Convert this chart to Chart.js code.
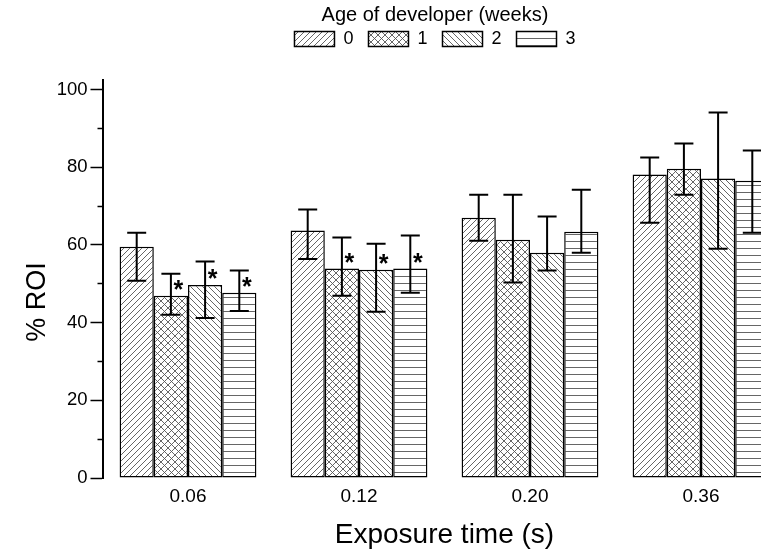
<!DOCTYPE html>
<html>
<head>
<meta charset="utf-8">
<script src="https://cdn.jsdelivr.net/npm/chart.js@4.4.0/dist/chart.umd.min.js"></script>
<style>
  html, body { margin: 0; padding: 0; background: #fff; }
  #wrap { width: 761px; height: 554px; overflow: hidden; }
</style>
</head>
<body>
<div id="wrap"><canvas id="chart" width="870" height="554"></canvas></div>
<script>
// exposure times (s)
const exposures = ['0.06', '0.12', '0.20', '0.36'];
const ages = ['0', '1', '2', '3'];

// mean % ROI per developer age
const week0 = [59.5, 63.7, 67.0, 78.1];
const week1 = [46.9, 53.9, 61.3, 79.6];
const week2 = [49.7, 53.6, 58.0, 77.1];
const week3 = [47.7, 53.9, 63.4, 76.5];

// error bar ends
const upper0 = [63.1, 69.1, 72.9, 82.5];
const lower0 = [50.8, 56.4, 61.1, 65.7];
const upper1 = [52.6, 61.9, 72.9, 86.1];
const lower1 = [42.0, 46.9, 50.3, 72.9];
const upper2 = [55.7, 60.3, 67.3, 94.1];
const lower2 = [41.2, 42.8, 53.4, 59.0];
const upper3 = [53.4, 62.4, 74.2, 84.3];
const lower3 = [43.0, 47.7, 58.0, 63.1];

// significant difference marks (*)
const star0 = [false, false, false, false];
const star1 = [true, true, false, false];
const star2 = [true, true, false, false];
const star3 = [true, true, false, false];

const yTicks = [0, 20, 40, 60, 80, 100];
const yMinorTicks = [10, 30, 50, 70, 90];
const yMax = 102.5;

const FONT = "'Liberation Sans', Arial, sans-serif";
Chart.defaults.font.family = FONT;
Chart.defaults.color = '#000';

function hatch(kind) {
  const s = kind === 'fwd' || kind === 'back' ? 6 : 7;
  const c = document.createElement('canvas');
  c.width = c.height = s;
  const g = c.getContext('2d');
  g.fillStyle = '#fff';
  g.fillRect(0, 0, s, s);
  g.strokeStyle = '#555';
  g.lineWidth = 0.9;
  g.beginPath();
  if (kind === 'fwd' || kind === 'cross') {
    g.moveTo(-1, s + 1); g.lineTo(s + 1, -1);
    g.moveTo(-1, 1); g.lineTo(1, -1);
    g.moveTo(s - 1, s + 1); g.lineTo(s + 1, s - 1);
  }
  if (kind === 'back' || kind === 'cross') {
    g.moveTo(-1, -1); g.lineTo(s + 1, s + 1);
    g.moveTo(s - 1, -1); g.lineTo(s + 1, 1);
    g.moveTo(-1, s - 1); g.lineTo(1, s + 1);
  }
  if (kind === 'horiz') {
    g.moveTo(0, 3.5); g.lineTo(s, 3.5);
  }
  g.stroke();
  return g.createPattern(c, 'repeat');
}

const series = [
  { data: week0, hi: upper0, lo: lower0, star: star0, fill: hatch('fwd') },
  { data: week1, hi: upper1, lo: lower1, star: star1, fill: hatch('cross') },
  { data: week2, hi: upper2, lo: lower2, star: star2, fill: hatch('back') },
  { data: week3, hi: upper3, lo: lower3, star: star3, fill: hatch('horiz') }
];

// error bars, stars and the y axis title (sits a bit below the axis middle)
const extras = {
  id: 'extras',
  afterDatasetsDraw(chart) {
    const { ctx } = chart;
    const y = chart.scales.y;
    ctx.save();
    ctx.strokeStyle = '#000';
    ctx.fillStyle = '#000';
    ctx.lineWidth = 2;
    series.forEach((s, i) => {
      const meta = chart.getDatasetMeta(i);
      meta.data.forEach((bar, j) => {
        const x = bar.x;
        const top = y.getPixelForValue(s.hi[j]);
        const bot = y.getPixelForValue(s.lo[j]);
        ctx.beginPath();
        ctx.moveTo(x, top); ctx.lineTo(x, bot);
        ctx.moveTo(x - 9.5, top); ctx.lineTo(x + 9.5, top);
        ctx.moveTo(x - 9.5, bot); ctx.lineTo(x + 9.5, bot);
        ctx.stroke();
        if (s.star[j]) {
          ctx.font = 'bold 25px ' + FONT;
          ctx.textAlign = 'center';
          ctx.textBaseline = 'alphabetic';
          ctx.fillText('*', x + 7.5, bar.y + 2);
        }
      });
    });
    ctx.restore();
  },
  afterDraw(chart) {
    const { ctx, chartArea } = chart;
    ctx.save();
    ctx.translate(38, chartArea.bottom - 176);
    ctx.rotate(-Math.PI / 2);
    ctx.font = '27px ' + FONT;
    ctx.fillStyle = '#000';
    ctx.textAlign = 'center';
    ctx.textBaseline = 'middle';
    ctx.fillText('% ROI', 0, 0);
    ctx.restore();
  }
};

new Chart(document.getElementById('chart'), {
  type: 'bar',
  data: {
    labels: exposures,
    datasets: series.map((s, i) => ({
      label: ages[i],
      data: s.data,
      backgroundColor: s.fill,
      borderColor: '#000',
      borderWidth: 1.5,
      borderSkipped: false,
      xAxisID: 'x',
      yAxisID: 'y',
      categoryPercentage: 0.8,
      barPercentage: 1.0
    }))
  },
  options: {
    responsive: false,
    animation: false,
    devicePixelRatio: 1,
    events: [],
    layout: { padding: 0 },
    plugins: {
      legend: {
        position: 'top',
        labels: {
          boxWidth: 40,
          boxHeight: 15,
          padding: 15,
          color: '#000',
          font: { size: 18 }
        },
        title: {
          display: true,
          text: 'Age of developer (weeks)',
          color: '#000',
          font: { size: 20, lineHeight: 1 },
          padding: { top: 5, bottom: -10 }
        }
      },
      tooltip: { enabled: false }
    },
    scales: {
      x: {
        type: 'category',
        position: 'bottom',
        grid: { display: false, drawTicks: false },
        border: { display: false },
        ticks: { font: { size: 19 }, color: '#000', padding: 7 },
        title: {
          display: true,
          text: 'Exposure time (s)',
          color: '#000',
          font: { size: 28 },
          padding: { top: 0, bottom: 2 }
        },
        afterFit: (s) => { s.height = 76; }
      },
      xTop: {
        type: 'category',
        position: 'top',
        grid: { display: false, drawTicks: false },
        border: { display: false },
        ticks: { display: false },
        afterFit: (s) => { s.height = 21.8; }
      },
      y: {
        type: 'linear',
        position: 'left',
        weight: 1,
        min: 0,
        max: yMax,
        afterBuildTicks: (s) => { s.ticks = yTicks.map(v => ({ value: v })); },
        grid: { drawOnChartArea: false, tickLength: 12, tickWidth: 1.5, tickColor: '#000' },
        border: { display: true, color: '#000', width: 2 },
        ticks: { font: { size: 18.5 }, color: '#000', padding: 3 },
        afterFit: (s) => { s.width = 102.5; }
      },
      yMinor: {
        type: 'linear',
        position: 'left',
        weight: 0,
        min: 0,
        max: yMax,
        afterBuildTicks: (s) => { s.ticks = yMinorTicks.map(v => ({ value: v })); },
        grid: { drawOnChartArea: false, tickLength: 5, tickWidth: 1.5, tickColor: '#000' },
        border: { display: false },
        ticks: { callback: () => '' },
        afterFit: (s) => { s.width = 0; }
      },
      yRight: {
        type: 'linear',
        position: 'right',
        grid: { display: false, drawTicks: false },
        border: { display: false },
        ticks: { display: false },
        afterFit: (s) => { s.width = 83.5; }
      }
    }
  },
  plugins: [extras]
});
</script>
</body>
</html>
